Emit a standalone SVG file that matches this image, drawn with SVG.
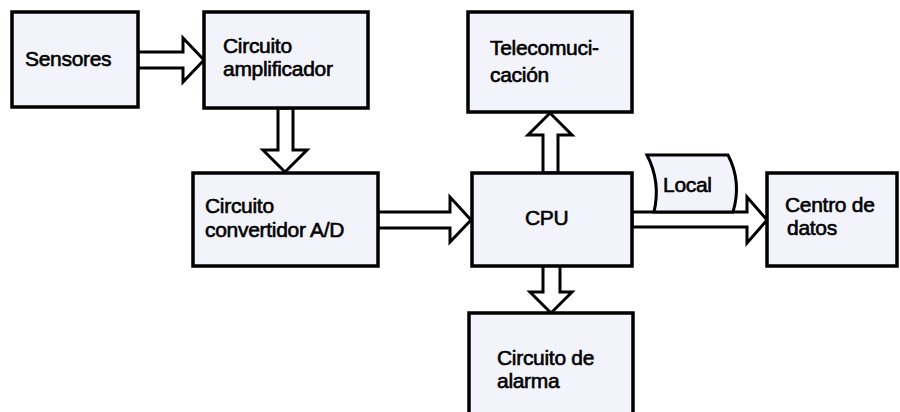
<svg xmlns="http://www.w3.org/2000/svg" width="900" height="412" viewBox="0 0 900 412">
<style>
.box{fill:#f3f4fb;stroke:#000;stroke-width:3.5}
.arr{fill:#fff;stroke:#000;stroke-width:3;stroke-linejoin:miter}
.t{font-family:"Liberation Sans",Arial,sans-serif;font-size:21px;fill:#000;stroke:#000;stroke-width:0.6;letter-spacing:-0.3px}
</style>
<rect width="900" height="412" fill="#fff"/>
<g id="connectors">
<polygon class="arr" points="138,52 183,52 183,38 204,60 183,82 183,68 138,68"/>
<polygon class="arr" points="278,108 293,108 293,150 307,150 285,172 263,150 278,150"/>
<polygon class="arr" points="378,212 450,212 450,197 471,220 450,242 450,228 378,228"/>
<polygon class="arr" points="543,173 543,135 528,135 550,113 572,135 558,135 558,173"/>
<polygon class="arr" points="543,265 560,265 560,292 572,292 551,313 530,292 543,292"/>
<polygon class="arr" points="632,212 747,212 747,197 767,220 747,243 747,227 632,227"/>
</g>
<g id="local-tag">
<path d="M647,155 L728,155 Q742,182 733,212 L654,212 Q661,182 647,155 Z" fill="#f3f4fb" stroke="#000" stroke-width="3"/>
<text class="t" x="663" y="192">Local</text>
</g>
<g id="sensores">
<rect class="box" x="12" y="12" width="126" height="95"/>
<text class="t" x="25" y="66">Sensores</text>
</g>
<g id="amplificador">
<rect class="box" x="204" y="12" width="164" height="96"/>
<text class="t" x="223" y="53">Circuito</text>
<text class="t" x="223" y="76">amplificador</text>
</g>
<g id="convertidor">
<rect class="box" x="193" y="173" width="185" height="93"/>
<text class="t" x="205" y="213">Circuito</text>
<text class="t" x="205" y="237">convertidor A/D</text>
</g>
<g id="cpu">
<rect class="box" x="472" y="173" width="160" height="93"/>
<text class="t" x="525" y="225">CPU</text>
</g>
<g id="telecomunicacion">
<rect class="box" x="468" y="12" width="164" height="100"/>
<text class="t" x="490" y="55">Telecomuci-</text>
<text class="t" x="490" y="82">cación</text>
</g>
<g id="centro">
<rect class="box" x="767" y="173" width="130" height="93"/>
<text class="t" x="785" y="212">Centro de</text>
<text class="t" x="787" y="235">datos</text>
</g>
<g id="alarma">
<rect class="box" x="469" y="313" width="164" height="110"/>
<text class="t" x="497" y="365">Circuito de</text>
<text class="t" x="497" y="388">alarma</text>
</g>
</svg>
